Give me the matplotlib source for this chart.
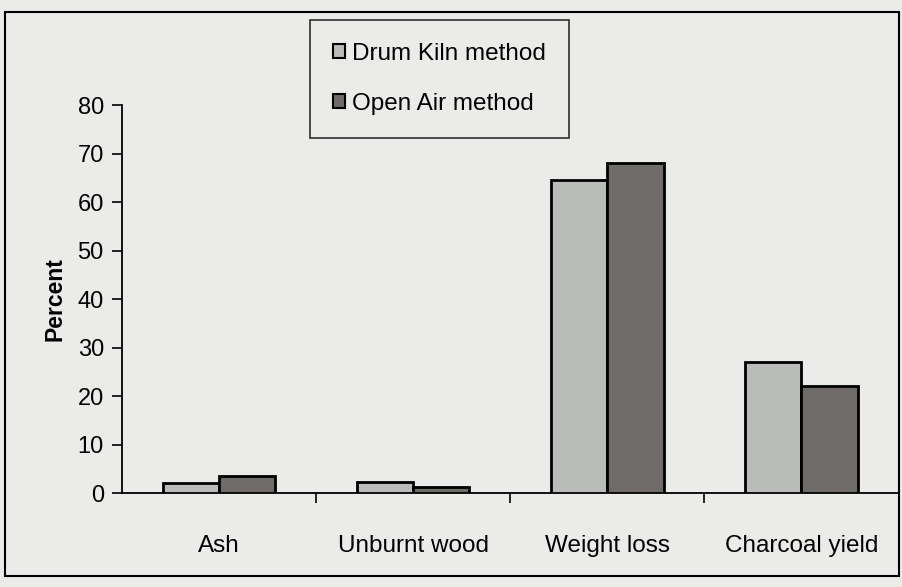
import matplotlib
matplotlib.use("Agg")
import matplotlib.pyplot as plt
import numpy as np
from matplotlib.patches import Rectangle, Patch

categories = ["Ash", "Unburnt wood", "Weight loss", "Charcoal yield"]
drum_kiln = [2.0, 2.3, 64.5, 27.0]
open_air = [3.6, 1.2, 68.0, 22.0]
series_names = ["Drum Kiln method", "Open Air method"]
yticks = [0, 10, 20, 30, 40, 50, 60, 70, 80]

plt.rcParams['font.family'] = ['Liberation Sans', 'DejaVu Sans']

bg = '#ebebe9'
c_drum = '#b9bcb8'
c_open = '#6f6b68'

fig = plt.figure(figsize=(9.03, 5.87), dpi=100, facecolor=bg)
ax = fig.add_axes([0.135, 0.160, 0.860, 0.661])
ax.set_facecolor(bg)

x = np.arange(len(categories))
w = 0.29
ax.bar(x - w/2, drum_kiln, width=w, color=c_drum, edgecolor='black', linewidth=2, zorder=3)
ax.bar(x + w/2, open_air, width=w, color=c_open, edgecolor='black', linewidth=2, zorder=3)

ax.set_xlim(-0.5, len(categories) - 0.5)
ax.set_ylim(0, 80)
ax.set_yticks(yticks)
ax.tick_params(axis='y', labelsize=17, length=7, width=1.2, pad=6, direction='out')

ax.set_xticks(x)
ax.set_xticklabels(categories, fontsize=17.5)
ax.tick_params(axis='x', which='major', length=0, pad=30)
ax.set_xticks(np.arange(0.5, len(categories) - 0.5, 1), minor=True)
ax.tick_params(axis='x', which='minor', length=7, width=1.2, direction='out')

for s in ['top', 'right']:
    ax.spines[s].set_visible(False)
ax.spines['left'].set_linewidth(1.3)
ax.spines['bottom'].set_linewidth(1.3)

ax.set_ylabel("Percent", fontsize=16.5, fontweight='bold', labelpad=8)

handles = [Patch(facecolor=c_drum, edgecolor='black', linewidth=1.5),
           Patch(facecolor=c_open, edgecolor='black', linewidth=1.5)]
leg = fig.legend(handles, series_names, loc='upper left',
                 bbox_to_anchor=(0.343, 0.966), fontsize=17.5,
                 frameon=True, fancybox=False, edgecolor='black',
                 handlelength=0.5, handleheight=0.5, handletextpad=0.3,
                 labelspacing=1.15, borderpad=0.95, borderaxespad=0)
leg.get_frame().set_linewidth(1.2)
leg.get_frame().set_facecolor(bg)

fig.patches.append(Rectangle((0.006, 0.018), 0.99, 0.962, transform=fig.transFigure,
                             fill=False, edgecolor='black', linewidth=1.5))

fig.savefig("out.png", dpi=100, facecolor=bg)
